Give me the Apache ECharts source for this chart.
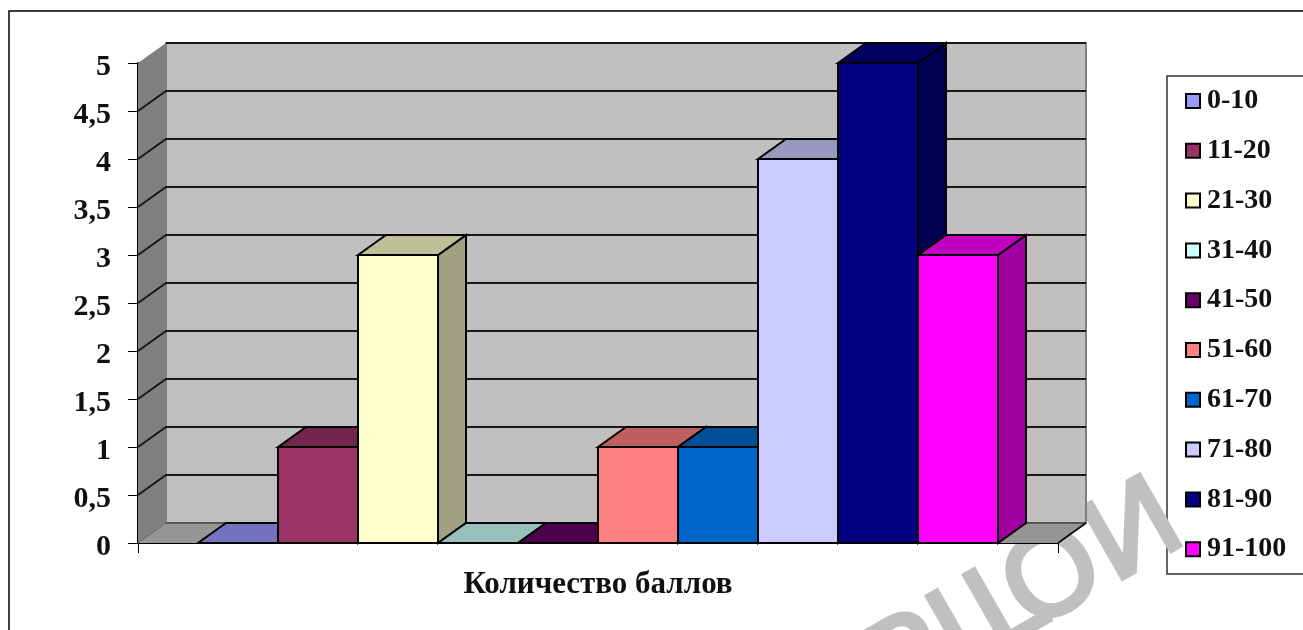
<!DOCTYPE html>
<html>
<head>
<meta charset="utf-8">
<style>html,body{margin:0;padding:0;background:#fff}#chart{width:1303px;height:630px}</style>
<script src="https://cdn.jsdelivr.net/npm/echarts@6/dist/echarts.min.js"></script>
</head>
<body>
<div id="chart"></div>
<script>
var categories = ['Количество баллов'];
var seriesNames = ['0-10', '11-20', '21-30', '31-40', '41-50', '51-60', '61-70', '71-80', '81-90', '91-100'];
var seriesValues = [0, 1, 3, 0, 0, 1, 1, 4, 5, 3];
var frontColors = ['#9999FF', '#993366', '#FFFFCC', '#CCFFFF', '#660066', '#FF8080', '#0066CC', '#CCCCFF', '#000080', '#FF00FF'];
var gridValues = [0.5, 1, 1.5, 2, 2.5, 3, 3.5, 4, 4.5, 5];
var fontName = '"Liberation Serif", serif';

// 3d look of the old Excel chart
var depthX = 28, depthY = 20;

function shade(hex, k) {
    var n = parseInt(hex.slice(1), 16);
    var r = Math.round((n >> 16) * k), g = Math.round(((n >> 8) & 255) * k), b = Math.round((n & 255) * k);
    return 'rgb(' + r + ',' + g + ',' + b + ')';
}

function face(points, fill, lineWidth, stroke) {
    return {
        type: 'polygon',
        shape: { points: points },
        style: { fill: fill, stroke: stroke || '#000', lineWidth: lineWidth === undefined ? 2 : lineWidth, lineJoin: 'miter' }
    };
}

function renderWalls(params, api) {
    var size = api.size([1, 0])[0];
    var mid = api.coord([0, 0]);
    var top = api.coord([0, 5]);
    var l = mid[0] - size / 2, r = mid[0] + size / 2, b = mid[1], t = top[1];
    var kids = [
        face([[l + depthX, t - depthY], [r + depthX, t - depthY], [r + depthX, b - depthY], [l + depthX, b - depthY]], '#C0C0C0', 2, '#808080'),
        face([[l, t], [l + depthX, t - depthY], [l + depthX, b - depthY], [l, b]], '#808080', 0),
        face([[l, b], [l + depthX, b - depthY], [r + depthX, b - depthY], [r, b]], '#969696', 0)
    ];
    gridValues.forEach(function (v) {
        var y = api.coord([0, v])[1];
        // no diagonal on the top edge of the side wall
        var pts = v === 5 ? [[l + depthX, y - depthY], [r + depthX, y - depthY]] : [[l, y], [l + depthX, y - depthY], [r + depthX, y - depthY]];
        kids.push({ type: 'polyline', shape: { points: pts }, style: { fill: null, stroke: '#1a1a1a', lineWidth: 2 } });
    });
    kids.push({ type: 'line', shape: { x1: l + depthX, y1: b - depthY, x2: r + depthX, y2: b - depthY }, style: { stroke: '#444', lineWidth: 1.5 } });
    kids.push({ type: 'line', shape: { x1: l, y1: b, x2: l + depthX, y2: b - depthY }, style: { stroke: '#666', lineWidth: 1 } });
    kids.push({ type: 'line', shape: { x1: r, y1: b, x2: r + depthX, y2: b - depthY }, style: { stroke: '#111', lineWidth: 2 } });
    return { type: 'group', children: kids };
}

function renderBar(idx) {
    return function (params, api) {
        var size = api.size([1, 0])[0];
        var w = size / 11.5;
        var p = api.coord([0, api.value(1)]);
        var base = api.coord([0, 0]);
        var x0 = p[0] + (idx - 5) * w, x1 = x0 + w, y1 = p[1], y0 = base[1];
        var color = frontColors[idx];
        var kids = [];
        kids.push(face([[x1, y1], [x1 + depthX, y1 - depthY], [x1 + depthX, y0 - depthY], [x1, y0]], shade(color, 0.63)));
        kids.push(face([[x0, y1], [x0 + depthX, y1 - depthY], [x1 + depthX, y1 - depthY], [x1, y1]], shade(color, 0.75)));
        if (y0 - y1 > 0) {
            kids.push(face([[x0, y1], [x1, y1], [x1, y0], [x0, y0]], color));
        }
        return { type: 'group', children: kids };
    };
}

// watermark letters, partly cut off in the source picture
function mark(ch, x) {
    return {
        type: 'text', silent: true, z: -3, x: x, y: 0,
        style: { text: ch, x: 0, y: 0, textAlign: 'left', textVerticalAlign: 'middle', fill: '#C0C0C0', stroke: '#C0C0C0', lineWidth: 5, font: '118px "Liberation Sans", sans-serif' }
    };
}

var series = [{
    name: 'walls',
    type: 'custom',
    data: [[0, 0]],
    renderItem: renderWalls,
    silent: true,
    z: 1,
    clip: false
}];
seriesNames.forEach(function (name, i) {
    series.push({
        name: name,
        type: 'custom',
        data: [[0, seriesValues[i]]],
        encode: { x: 0, y: 1 },
        renderItem: renderBar(i),
        itemStyle: { color: frontColors[i] },
        z: 2,
        clip: false
    });
});

var myChart = echarts.init(document.getElementById('chart'));
var option = {
    animation: false,
    backgroundColor: '#fff',
    textStyle: { fontFamily: fontName },
    grid: { left: 138, top: 63, width: 920, height: 480, containLabel: false },
    xAxis: {
        type: 'category',
        data: categories,
        axisLine: { show: true, lineStyle: { color: '#000', width: 2 } },
        axisTick: { show: true, length: 10, alignWithLabel: false, lineStyle: { color: '#000', width: 1 } },
        axisLabel: { show: true, margin: 26, color: '#111', fontFamily: fontName, fontWeight: 'bold', fontSize: 31 }
    },
    yAxis: {
        type: 'value',
        min: 0,
        max: 5,
        interval: 0.5,
        axisLine: { show: true, lineStyle: { color: '#000', width: 2 } },
        axisTick: { show: true, length: 10, lineStyle: { color: '#000', width: 1 } },
        splitLine: { show: false },
        axisLabel: {
            margin: 27,
            color: '#111',
            fontFamily: fontName,
            fontWeight: 'bold',
            fontSize: 30,
            verticalAlign: 'top',
            lineHeight: 8,
            formatter: function (v) { return String(v).replace('.', ','); }
        }
    },
    legend: {
        data: seriesNames,
        orient: 'vertical',
        left: 1185,
        top: 84,
        itemWidth: 14,
        itemHeight: 14,
        itemGap: 15.8,
        padding: 0,
        icon: 'rect',
        selectedMode: false,
        itemStyle: { borderColor: '#000', borderWidth: 2 },
        textStyle: { fontFamily: fontName, fontWeight: 'bold', fontSize: 28, lineHeight: 27, color: '#111', padding: [7, 0, 0, 2] }
    },
    graphic: [
        { type: 'rect', z: -10, silent: true, shape: { x: 9, y: 11, width: 1400, height: 700 }, style: { fill: '#fff', stroke: '#000', lineWidth: 1.5 } },
        { type: 'rect', z: -5, silent: true, shape: { x: 1167, y: 76, width: 200, height: 498 }, style: { fill: '#fff', stroke: '#333', lineWidth: 1.5 } },
        { type: 'group', x: 1054, y: 580, rotation: 0.52, silent: true,
          children: [mark('Р', -208), mark('I', -129), mark('L', -85), mark('О', -46), mark('И', 51)] }
    ],
    series: series
};
myChart.setOption(option);

window.addEventListener('resize', function () {
    myChart.resize();
});
</script>
</body>
</html>
